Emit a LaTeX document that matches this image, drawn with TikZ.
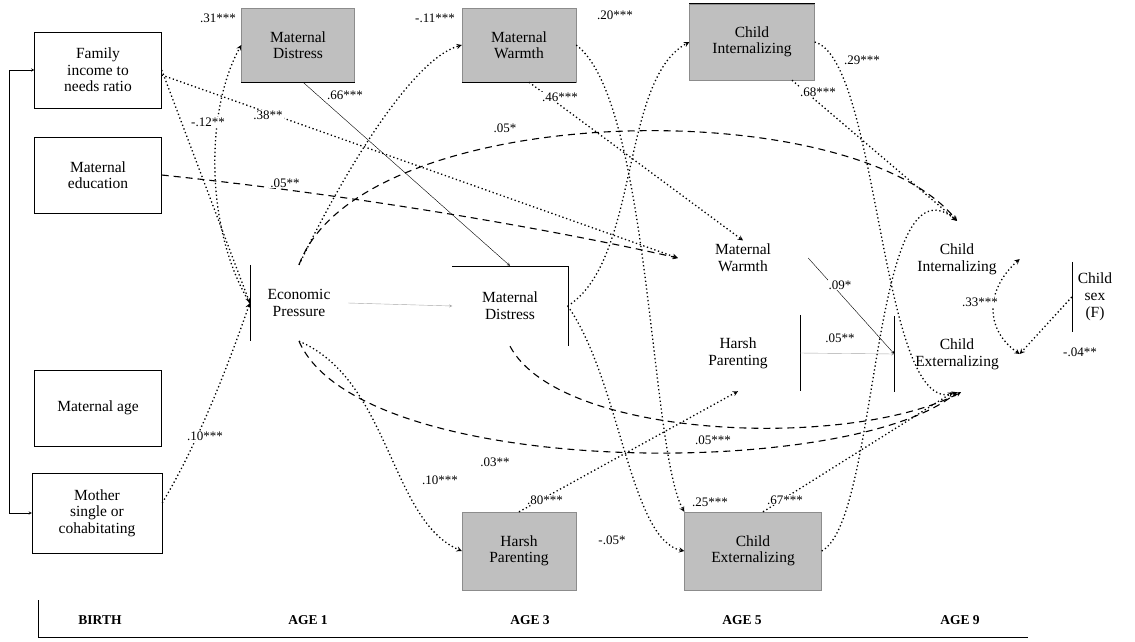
\documentclass[tikz,border=0pt]{standalone}
\usepackage{fontspec}
\setmainfont{Liberation Serif}
\usetikzlibrary{positioning,arrows.meta,calc}
\tikzstyle{arrow} = [thick,->,>=stealth]
\tikzstyle{dotpath} = [arrow,line width=1.3pt,dash pattern=on 1.3pt off 2.6pt]
\tikzstyle{dashpath} = [arrow,line width=1.1pt,dash pattern=on 7pt off 5pt]
\tikzstyle{weakpath} = [->,>=stealth,black!35]

\begin{document}
\begin{tikzpicture}[x=1pt,y=-1pt,
  box/.style={draw,thin,align=center,minimum width=127pt,minimum height=76pt,font=\fontsize{15.5}{16.5}\selectfont},
  gbox/.style={box,fill=black!25,draw=black!45},
  free/.style={align=center,font=\fontsize{15.5}{17}\selectfont},
  coef/.style={fill=white,inner sep=1pt,font=\fontsize{13}{14}\selectfont},
  age/.style={font=\bfseries\fontsize{13.5}{15}\selectfont}]

\useasboundingbox (0,0) rectangle (1135,641);

% birth
\node[box] (fi) at (98,70) {Family\\income to\\needs ratio};
\node[box] (me) at (98,175) {Maternal\\education};
\node[box] (ma) at (98,408) {Maternal age};
\node[box,minimum width=130pt,minimum height=80pt] (ms) at (97,513) {Mother\\single or\\cohabitating};

% age 1
\node[gbox,minimum width=113pt,minimum height=74pt] (md1) at (298,45) {Maternal\\Distress};
\node[free,minimum width=98pt,minimum height=76pt] (ep) at (299,303) {Economic\\Pressure};

% age 3
\node[gbox,minimum width=114pt,minimum height=74pt] (mw3) at (519,45) {Maternal\\Warmth};
\node[free,minimum width=115pt,minimum height=80pt] (md3) at (510,306) {Maternal\\Distress};
\node[gbox,minimum width=114pt,minimum height=78pt] (hp3) at (519,551) {Harsh\\Parenting};

% age 5
\node[gbox,minimum width=125pt] (ci5) at (752,42) {Child\\Internalizing};
\node[free,minimum width=130pt] (mw5) at (743,258) {Maternal\\Warmth};
\node[free,minimum width=124pt,minimum height=76pt] (hp5) at (738,353) {Harsh\\Parenting};
\node[gbox,minimum width=137pt,minimum height=78pt] (ce5) at (753,551) {Child\\Externalizing};

% age 9
\node[free,minimum width=125pt,minimum height=76pt] (ci9) at (957,259) {Child\\Internalizing};
\node[free,minimum width=125pt,minimum height=76pt] (ce9) at (957,354) {Child\\Externalizing};
\node[free,minimum width=46pt,minimum height=70pt] (sex) at (1095,297) {Child\\sex\\(F)};

% partial frames
\draw (ep.north west) -- (ep.south west);
\draw (md3.north west) -- (md3.north east) -- (md3.south east);
\draw (hp5.north east) -- (hp5.south east);
\draw (ce9.north west) -- (ce9.south west);
\draw (sex.north west) -- (sex.south west);
\draw[very thick] (md1.south west) -- (md1.south east);
\draw[very thick] (mw3.south west) -- (mw3.south east);
\draw[very thick] (ci5.north west) -- (ci5.north east);

% covariates
\draw[<->,>=stealth] (fi.west) -- ++(-25,0) |- (ms.west);
\draw[dotpath] (ep.west) .. controls (205,230) and (205,110) .. (md1.west);
\draw[dotpath] (fi.east) -- (ep.west);
\draw[dotpath] ($(fi.east)+(0,5)$) -- (mw5.west);
\draw[dashpath] (me.east) .. controls (400,200) and (600,240) .. (mw5.west);
\draw[dotpath] ($(ms.east)+(0,-10)$) .. controls (200,440) and (230,360) .. (ep.west);

% age 1 to 3
\draw[arrow,thin] ($(md1.south)+(5,0)$) -- (md3.north);
\draw[weakpath] (ep.east) -- (md3.west);
\draw[dotpath] (ep.north) .. controls (340,180) and (410,60) .. (mw3.west);
\draw[dotpath] (ep.south) .. controls (390,380) and (390,520) .. (hp3.west);
\draw[dashpath] (ep.north) .. controls (360,100) and (850,90) .. (ci9.north);
\draw[dashpath] (ep.south) .. controls (360,480) and (850,480) .. (ce9.south);

% age 3 to 5
\draw[dotpath] ($(mw3.south)+(10,0)$) -- (mw5.north);
\draw[dotpath] (hp3.north) -- (hp5.south);
\draw[dotpath] (md3.east) .. controls (640,260) and (620,80) .. (ci5.west);
\draw[dotpath] (md3.east) .. controls (620,380) and (630,540) .. (ce5.west);
\draw[dotpath] (mw3.east) .. controls (650,100) and (650,450) .. (ce5.north west);
\draw[dashpath] (md3.south) .. controls (560,440) and (850,450) .. ($(ce9.south)+(4,0)$);

% age 5 to 9
\draw[dotpath] ($(ci5.south)+(40,0)$) -- (ci9.north);
\draw[dotpath] ($(ce5.north)+(10,0)$) -- ($(ce9.south)+(-4,0)$);
\draw[dotpath] (ci5.east) .. controls (880,60) and (880,420) .. (ce9.south);
\draw[dotpath] (ce5.east) .. controls (880,520) and (870,150) .. (ci9.north);
\draw[arrow,thin] (mw5.east) -- (ce9.west);
\draw[weakpath] (hp5.east) -- (ce9.west);
\draw[dotpath,<->] (ci9.east) .. controls (985,290) and (985,330) .. (ce9.east);
\draw[dotpath] (sex.west) -- (ce9.east);

% coefficients
\node[coef] (c1) at (218,18) {.31***};
\node[coef] (c2) at (208,122) {-.12**};
\node[coef] (c3) at (268,115) {.38**};
\node[coef] (c4) at (285,183) {.05**};
\node[coef] (c5) at (205,436) {.10***};
\node[coef] (c6) at (345,95) {.66***};
\node[coef] (c7) at (435,18) {-.11***};
\node[coef] (c8) at (440,480) {.10***};
\node[coef] (c9) at (505,128) {.05*};
\node[coef] (c10) at (495,462) {.03**};
\node[coef] (c11) at (560,97) {.46***};
\node[coef] (c12) at (545,500) {.80***};
\node[coef] (c13) at (615,15) {.20***};
\node[coef] (c14) at (612,540) {-.05*};
\node[coef] (c15) at (710,502) {.25***};
\node[coef] (c16) at (713,440) {.05***};
\node[coef] (c17) at (818,92) {.68***};
\node[coef] (c18) at (785,500) {.67***};
\node[coef] (c19) at (862,60) {.29***};
\node[coef] (c20) at (840,285) {.09*};
\node[coef] (c21) at (840,338) {.05**};
\node[coef] (c22) at (980,302) {.33***};
\node[coef] (c23) at (1080,352) {-.04**};

% time axis
\coordinate (axt) at (38,600);
\coordinate (axl) at (38,637);
\coordinate (axr) at (1028,637);
\draw[thick] (axt) -- (axl) -- (axr);
\foreach \x/\t/\n in {100/BIRTH/t0,308/AGE 1/t1,530/AGE 3/t3,742/AGE 5/t5,960/AGE 9/t9}
  \node[age] (\n) at (\x,620) {\t};

\end{tikzpicture}
\end{document}
